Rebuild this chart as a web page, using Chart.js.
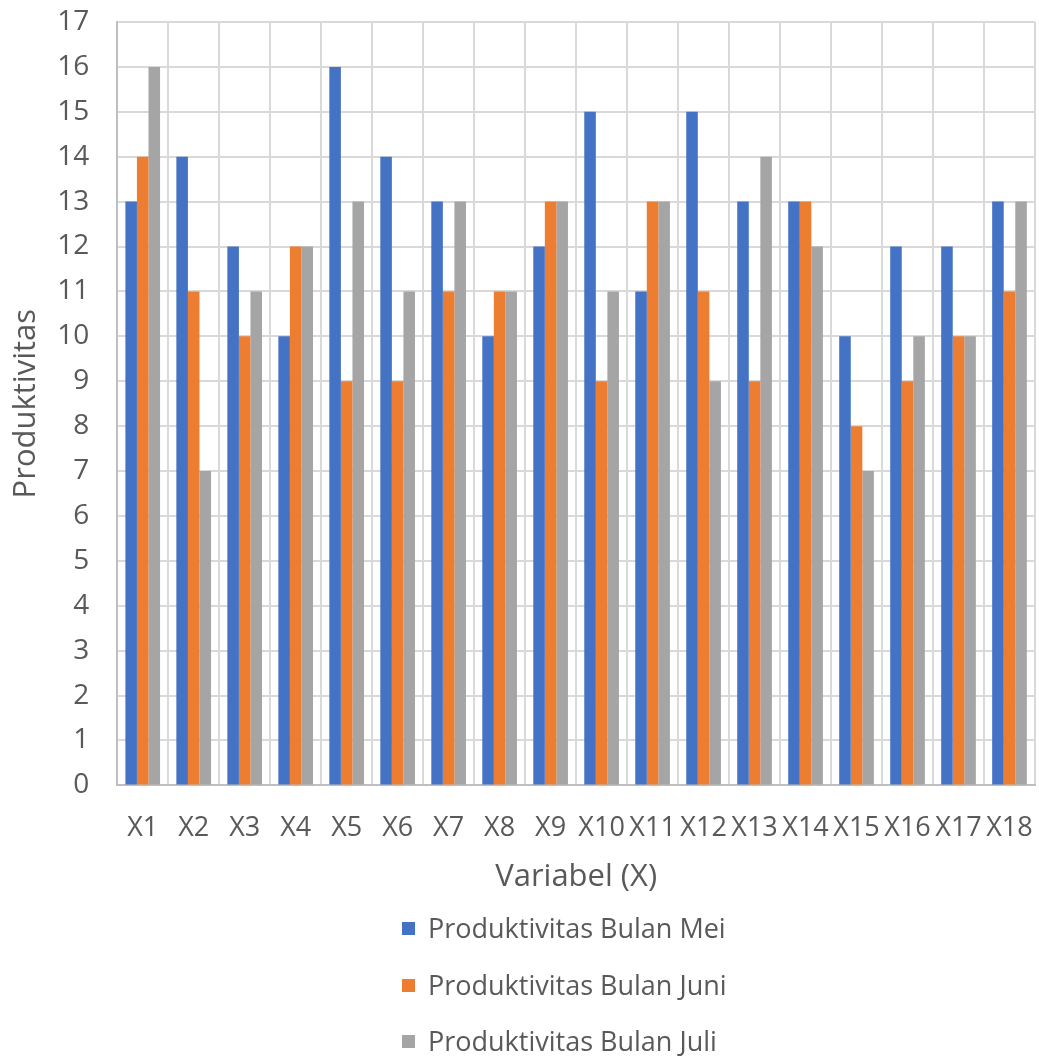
<!DOCTYPE html>
<html>
<head>
<meta charset="utf-8">
<script src="https://cdn.jsdelivr.net/npm/chart.js@4/dist/chart.umd.min.js"></script>
<style>
    body { margin: 0; background: #fff; }
    #wrap { position: relative; width: 1039px; height: 1059px; overflow: hidden; }
    #legenda { position: absolute; left: 400px; top: 909px; font-family: "Open Sans", sans-serif; font-size: 27px; color: #595959; }
    .item { height: 56.5px; display: flex; align-items: flex-start; }
    .kotak { width: 13px; height: 13px; margin: 13px 13px 0 2px; }
</style>
</head>
<body>
<div id="wrap">
    <canvas id="grafik" width="1039" height="1059"></canvas>
    <div id="legenda"></div>
</div>
<script>
const variabel = ["X1", "X2", "X3", "X4", "X5", "X6", "X7", "X8", "X9", "X10", "X11", "X12", "X13", "X14", "X15", "X16", "X17", "X18"];
const bulanMei = [13, 14, 12, 10, 16, 14, 13, 10, 12, 15, 11, 15, 13, 13, 10, 12, 12, 13];
const bulanJuni = [14, 11, 10, 12, 9, 9, 11, 11, 13, 9, 13, 11, 9, 13, 8, 9, 10, 11];
const bulanJuli = [16, 7, 11, 12, 13, 11, 13, 11, 13, 11, 13, 9, 14, 12, 7, 10, 10, 13];
const namaSeri = ["Produktivitas Bulan Mei", "Produktivitas Bulan Juni", "Produktivitas Bulan Juli"];
const warna = ["#4472C4", "#ED7D31", "#A5A5A5"];

const teks = "#595959";
const font = "'Open Sans', sans-serif";

const chart = new Chart(document.getElementById("grafik"), {
    type: "bar",
    data: {
        labels: variabel,
        datasets: [bulanMei, bulanJuni, bulanJuli].map((d, i) => ({
            label: namaSeri[i],
            data: d,
            backgroundColor: warna[i],
            categoryPercentage: 0.68,
            barPercentage: 1
        }))
    },
    options: {
        responsive: false,
        animation: false,
        layout: { padding: { top: 22, right: 4, left: 8, bottom: 163 } },
        plugins: {
            legend: { display: false },
            tooltip: { enabled: false }
        },
        scales: {
            x: {
                // garis tick transparan supaya label agak jauh dari sumbu
                grid: { color: "#d9d9d9", lineWidth: 2, offset: true, tickLength: 25, tickColor: "transparent" },
                border: { color: "#bfbfbf", width: 2 },
                ticks: { color: teks, font: { family: font, size: 27 }, padding: 2, maxRotation: 0, autoSkip: false },
                title: { display: true, text: "Variabel (X)", color: teks, font: { family: font, size: 31 }, padding: { top: 12, bottom: 0 } }
            },
            y: {
                min: 0,
                max: 17,
                grid: { color: "#d9d9d9", lineWidth: 2, tickLength: 26, tickColor: "transparent" },
                border: { color: "#bfbfbf", width: 2 },
                ticks: { stepSize: 1, color: teks, font: { family: font, size: 28 }, padding: 2 },
                title: { display: true, text: "Produktivitas", color: teks, font: { family: font, size: 31 }, padding: { top: 0, bottom: 10 } }
            }
        }
    }
});

// legenda vertikal seperti aslinya
let legenda = document.getElementById("legenda");
chart.data.datasets.forEach((ds) => {
    let baris = document.createElement("div");
    baris.className = "item";
    let kotak = document.createElement("span");
    kotak.className = "kotak";
    kotak.style.background = ds.backgroundColor;
    let nama = document.createElement("span");
    nama.textContent = ds.label;
    baris.appendChild(kotak);
    baris.appendChild(nama);
    legenda.appendChild(baris);
});
</script>
</body>
</html>
